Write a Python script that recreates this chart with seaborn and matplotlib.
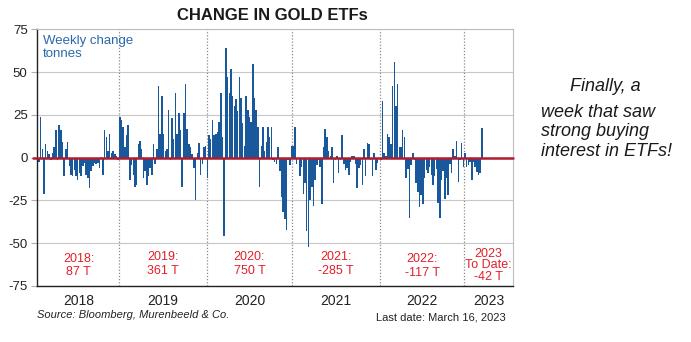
import numpy as np
import pandas as pd
import matplotlib
matplotlib.use("Agg")
import matplotlib.pyplot as plt
import seaborn as sns

# ---- data (weekly change in gold ETF holdings, tonnes) ----
years = ["2018", "2019", "2020", "2021", "2022", "2023"]
wk2018 = [-2.5, 24, 5, -21, 8, 4, 2, -1.5, 3, 6, 16, -1.5, 19, 16, 9, -11, 5, 9, -5, -10,
          -11, -7, -11, -13, -9, -11, -5, -3, -10, -12, -18, -8, -5, -3, -4, -3, -6, 0.5,
          -10, 16, 12, 4, 14, 3, 4, 2, 1, -1.5]
wk2019 = [24, 22, 18, 6, 13, 19, -13, -4.5, -10, -17, -16, 8, 10, 5, -12, -8, -16, -11, -6,
          -10, 8, -3.5, 5, 42, 14, 36, 14, 4, 5, 28, -1.5, 23, 11, 38, 14, 26, 16, -17, 26,
          43, 17, 8, 6, 2, -6, -25, 3, 8.5, -10, -3.5, 6, 7]
wk2020 = [-12, 13, 11, 22, 13, 14, 15, 21, 38, 12, -46, 64, 47, 38, 52, 36, 30, 34, 27, 47,
          35, 20, 7, 36, 28, 24, 21, 55, 35, 28, 18, -17, 7, 18, 4, 9, 18, 12, 18, -1.5,
          -2.5, -3.5, 6, -8, -23, -32, -36, -42, -1.5, -4.5, 7]
wk2021 = [7, 18, -3.5, -1, -11, -5.5, -21, -15, -43, -52, -25, -17, -28, -13, -4.5, -1.5,
          -5.5, -27, 6, 17, 12, 4, 1, 6, -15, -1.5, 1, -9, -1.5, 13, -3.5, -7, -6, -10, -2.5,
          1, 1, -3.5, -18, -6, -4.5, -16, 5, -10.5, 8.5, 8, -1.5, -11, 3, -7, -3, -1]
wk2022 = [-1.5, 33, 3, 1, 14, 12, 8, 42, 56, 30, 43, 6, 6, 16, 12, -12, -6.5, -35, -4.5, 3,
          -1.5, -15, -20, -29, -22, -27, -12, -7, -9, -5.5, -10, -16, -11, -6.5, -26.5, -35,
          -13, -8, -24, -12, -22, -3.5, -9, 5, 1, 10, -14, -1.5, 8.5, -5.5]
wk2023 = [3, -5.5, -4.5, -2.5, -13, -2.5, -5.5, -8.5, -10, -9, 17.5]
year_notes = ["2018:\n87 T", "2019:\n361 T", "2020:\n750 T", "2021:\n-285 T",
              "2022:\n-117 T", "2023\nTo Date:\n-42 T"]
y_ticks = [-75, -50, -25, 0, 25, 50, 75]

# ---- style ----
sns.set_style("white")
plt.rcParams["font.family"] = ["Liberation Sans", "DejaVu Sans"]

BAR = "#19589A"
RED_LINE = "#B01C2E"
RED_TXT = "#E0202A"
BLUE_TXT = "#2A69AC"

series = [wk2018, wk2019, wk2020, wk2021, wk2022, wk2023]
counts = [len(s) for s in series]
values = np.concatenate([np.asarray(s, float) for s in series])
week = np.arange(len(values)) + 0.5
df = pd.DataFrame({"week": week, "change": values})

bounds = np.concatenate([[0], np.cumsum(counts)])
x_right = 282.0

W, H = 691, 342
fig = plt.figure(figsize=(W / 100, H / 100), dpi=100)
L, R, T, B = 37.3, 513.0, 29.3, 286.0
ax = fig.add_axes([L / W, 1 - B / H, (R - L) / W, (B - T) / H])

sns.barplot(data=df, x="week", y="change", native_scale=True, color=BAR,
            saturation=1, width=0.9, errorbar=None, linewidth=0, ax=ax, zorder=2)

ax.set_xlim(-0.5, x_right)
ax.set_ylim(-75, 75)
ax.set_yticks(y_ticks)
ax.set_yticklabels([str(t) for t in y_ticks])
ax.yaxis.grid(True, color="#c8c8c8", lw=0.8)
ax.xaxis.grid(False)
ax.set_axisbelow(True)

# year separators
for b in bounds[1:-1]:
    ax.axvline(b, color="#8a8a8a", lw=0.9, ls=(0, (1, 1.5)), zorder=1)

# zero line
ax.axhline(0, xmin=-0.009, xmax=1, color=RED_LINE, lw=1.8, zorder=3, clip_on=False)

# x ticks at the middle of each year
ends = list(bounds[1:-1]) + [x_right]
mids = [(s + e) / 2 for s, e in zip(bounds[:-1], ends)]
ax.set_xticks(mids)
ax.set_xticklabels(years)
ax.set_xlabel("")
ax.set_ylabel("")
ax.tick_params(axis="x", length=0, labelsize=10, pad=6, colors="#222222")
ax.tick_params(axis="y", length=4, width=0.8, color="#b0b0b0", labelsize=9.5, pad=3,
               labelcolor="#222222", left=True)

for side in ["left", "bottom"]:
    ax.spines[side].set_color("#222222")
    ax.spines[side].set_linewidth(1.0)
for side in ["top", "right"]:
    ax.spines[side].set_color("#bdbdbd")
    ax.spines[side].set_linewidth(0.8)

# year annotations
note_y = [-63, -62, -62, -62, -63.5, -63]
for m, note, ny in zip(mids, year_notes, note_y):
    ls = 0.95 if note.count("\n") == 2 else 1.2
    ax.text(m, ny, note, ha="center", va="center", color=RED_TXT, fontsize=9,
            linespacing=ls, zorder=4)

# texts
fig.text(43.3 / W, 1 - 35 / H, "Weekly change\ntonnes", ha="left", va="top",
         color=BLUE_TXT, fontsize=9.5, linespacing=1.15)
fig.text(272.7 / W, 1 - 15.5 / H, "CHANGE IN GOLD ETFs", ha="center", va="center",
         fontsize=12, fontweight="bold", color="#1a1a1a")
fig.text(37 / W, 1 - 315 / H, "Source: Bloomberg, Murenbeeld & Co.", ha="left",
         va="center", fontsize=8, style="italic", color="#222222")
fig.text(506 / W, 1 - 318 / H, "Last date: March 16, 2023", ha="right", va="center",
         fontsize=8, color="#222222")
fig.text(570 / W, 1 - 86.7 / H, "Finally, a", ha="left", va="center", fontsize=13,
         style="italic", color="#1a1a1a")
fig.text(541 / W, 1 - 131.7 / H, "week that saw\nstrong buying\ninterest in ETFs!",
         ha="left", va="center", fontsize=13, style="italic", color="#1a1a1a",
         linespacing=1.18)

fig.savefig("out.png", dpi=100)
